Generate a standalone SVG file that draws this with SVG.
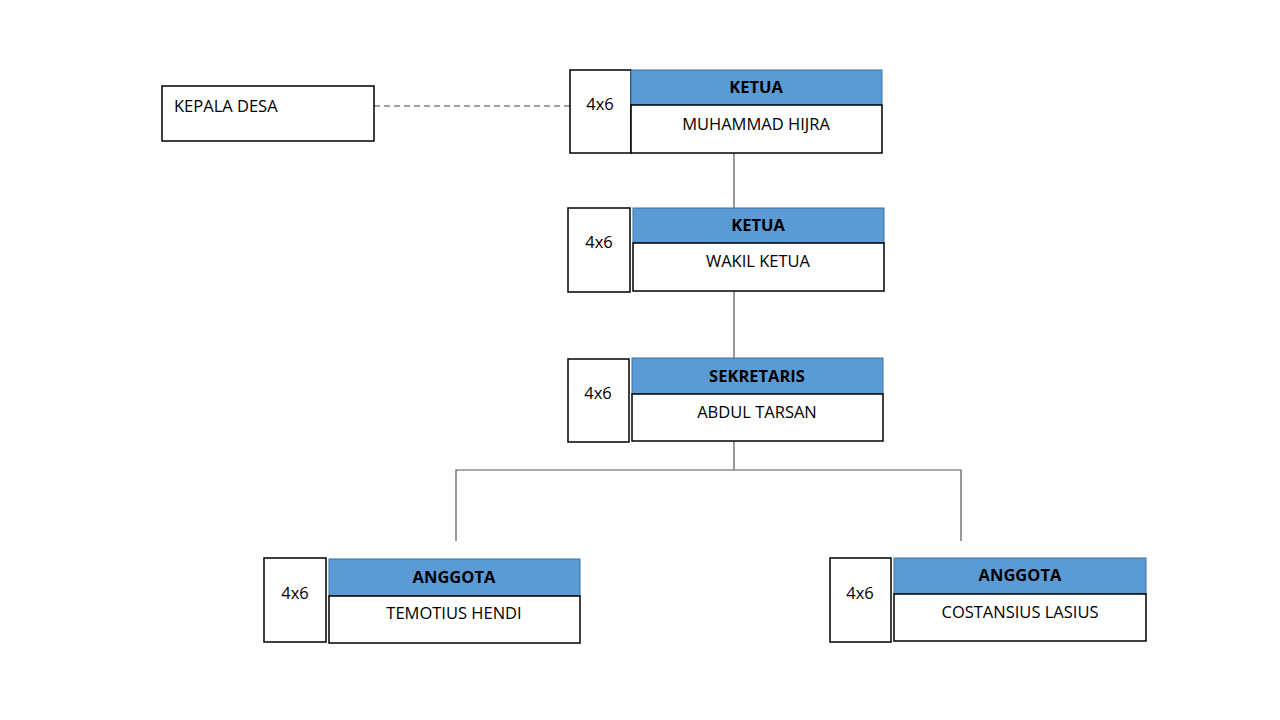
<svg xmlns="http://www.w3.org/2000/svg" width="1280" height="720" viewBox="0 0 1280 720">
<style>
.photo{fill:#fff;stroke:#000;stroke-width:1.5}
.hdr{fill:#5B9BD5;stroke:#41719C;stroke-width:1}
.body{fill:#fff;stroke:#000;stroke-width:1.5}
.t{font-family:"Open Sans","Liberation Sans",sans-serif;font-size:16.5px;fill:#000;text-anchor:middle}
.b{font-weight:bold}
.ln{stroke:#555;stroke-width:1.2;fill:none}
</style>
<rect width="1280" height="720" fill="#fff"/>
<g id="connectors">
<line class="ln" x1="374" y1="106" x2="570" y2="106" stroke-dasharray="6,4" style="stroke:#444"/>
<line class="ln" x1="734" y1="153" x2="734" y2="208"/>
<line class="ln" x1="734" y1="291" x2="734" y2="358"/>
<polyline class="ln" points="734,441 734,470"/>
<polyline class="ln" points="456,541 456,470 961,470 961,541"/>
</g>
<g id="kepala-desa">
<rect class="photo" x="162" y="86" width="212" height="55"/>
<text class="t" x="174" y="112" style="text-anchor:start">KEPALA DESA</text>
</g>
<g id="ketua">
<rect class="photo" x="570" y="70" width="61" height="83"/>
<text class="t" x="600" y="110">4x6</text>
<rect class="hdr" x="631" y="70" width="251" height="35"/>
<rect class="body" x="631" y="105" width="251" height="48"/>
<text class="t b" x="756" y="93">KETUA</text>
<text class="t" x="756" y="130">MUHAMMAD HIJRA</text>
</g>
<g id="wakil-ketua">
<rect class="photo" x="568" y="208" width="62" height="84"/>
<text class="t" x="599" y="248">4x6</text>
<rect class="hdr" x="633" y="208" width="251" height="35"/>
<rect class="body" x="633" y="243" width="251" height="48"/>
<text class="t b" x="758" y="231">KETUA</text>
<text class="t" x="758" y="267">WAKIL KETUA</text>
</g>
<g id="sekretaris">
<rect class="photo" x="568" y="359" width="61" height="83"/>
<text class="t" x="598" y="399">4x6</text>
<rect class="hdr" x="632" y="358" width="251" height="36"/>
<rect class="body" x="632" y="394" width="251" height="47"/>
<text class="t b" x="757" y="382">SEKRETARIS</text>
<text class="t" x="757" y="418">ABDUL TARSAN</text>
</g>
<g id="anggota-1">
<rect class="photo" x="264" y="558" width="62" height="84"/>
<text class="t" x="295" y="599">4x6</text>
<rect class="hdr" x="329" y="559" width="251" height="37"/>
<rect class="body" x="329" y="596" width="251" height="47"/>
<text class="t b" x="454" y="583">ANGGOTA</text>
<text class="t" x="454" y="619">TEMOTIUS HENDI</text>
</g>
<g id="anggota-2">
<rect class="photo" x="830" y="558" width="61" height="84"/>
<text class="t" x="860" y="599">4x6</text>
<rect class="hdr" x="894" y="558" width="252" height="36"/>
<rect class="body" x="894" y="594" width="252" height="47"/>
<text class="t b" x="1020" y="581">ANGGOTA</text>
<text class="t" x="1020" y="618">COSTANSIUS LASIUS</text>
</g>
</svg>
